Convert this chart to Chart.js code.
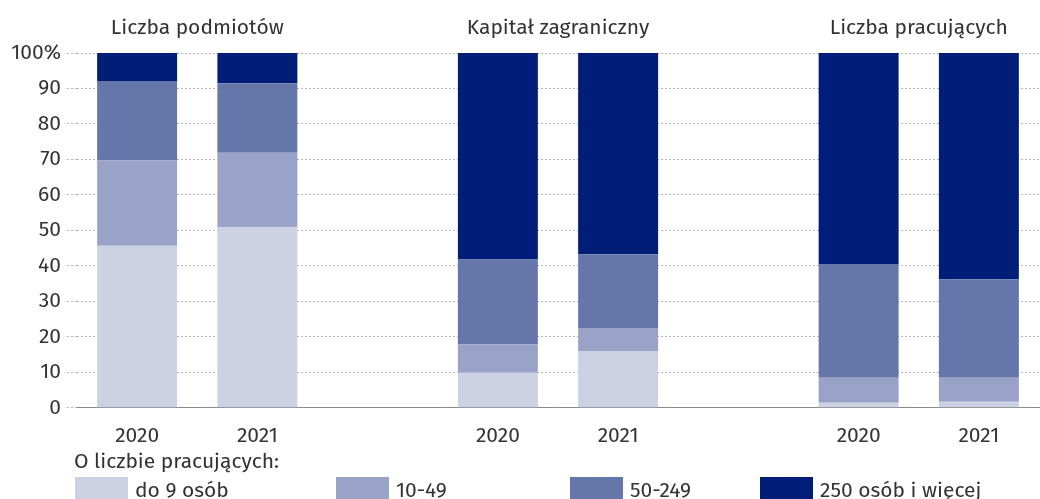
<!DOCTYPE html>
<html>
<head>
<meta charset="utf-8">
<script src="https://cdn.jsdelivr.net/npm/chart.js@4"></script>
<style>
  html, body { margin: 0; padding: 0; background: #fff; }
  #wrap { width: 1040px; height: 499px; position: relative; }
</style>
</head>
<body>
<div id="wrap"><canvas id="wykres"></canvas></div>
<script>
  // kategorie: dwa lata w trzech grupach, puste miejsca jako przerwy
  var lata = ['2020', '2021', '', '2020', '2021', '', '2020', '2021'];
  var grupy = ['Liczba podmiotów', 'Kapitał zagraniczny', 'Liczba pracujących'];
  var klasy = ['do 9 osób', '10-49', '50-249', '250 osób i więcej'];
  var kolory = ['#ccd1e4', '#99a3c8', '#6577aa', '#001d77'];

  var do9    = [45.7, 50.9, null, 9.9, 16.0, null, 1.4, 1.7];
  var od10   = [24.0, 21.0, null, 8.0, 6.5, null, 7.1, 6.8];
  var od50   = [22.4, 19.6, null, 23.9, 20.8, null, 32.0, 27.7];
  var od250  = [7.9, 8.5, null, 58.2, 56.7, null, 59.5, 63.8];

  var yTicks = [0, 10, 20, 30, 40, 50, 60, 70, 80, 90, 100];

  var czcionka = "'Fira Sans', 'Open Sans', sans-serif";
  var kolorTekstu = '#333333';
  var rozmiar = 21;

  // tytuły grup nad słupkami
  var tytulyGrup = {
    id: 'tytulyGrup',
    afterDraw: function(chart) {
      var ctx = chart.ctx;
      var x = chart.scales.x;
      ctx.save();
      ctx.font = rozmiar + 'px ' + czcionka;
      ctx.fillStyle = kolorTekstu;
      ctx.textAlign = 'center';
      ctx.textBaseline = 'middle';
      grupy.forEach(function(g, i) {
        var srodek = (x.getPixelForValue(i * 3) + x.getPixelForValue(i * 3 + 1)) / 2;
        ctx.fillText(g, srodek, 28);
      });
      ctx.restore();
    }
  };

  // legenda na dole
  var legendaDol = {
    id: 'legendaDol',
    afterDraw: function(chart) {
      var ctx = chart.ctx;
      var pozycje = [75, 336, 570, 760];
      ctx.save();
      ctx.font = rozmiar + 'px ' + czcionka;
      ctx.fillStyle = kolorTekstu;
      ctx.textAlign = 'left';
      ctx.textBaseline = 'middle';
      ctx.fillText('O liczbie pracujących:', 74, 462);
      chart.data.datasets.forEach(function(ds, i) {
        ctx.fillStyle = ds.backgroundColor;
        ctx.fillRect(pozycje[i], 477, 53, 26);
        ctx.fillStyle = kolorTekstu;
        ctx.fillText(ds.label, pozycje[i] + 60, 491);
      });
      ctx.restore();
    }
  };

  var serie = [do9, od10, od50, od250];
  var ctx = document.getElementById('wykres').getContext('2d');
  var wykres = new Chart(ctx, {
    type: 'bar',
    data: {
      labels: lata,
      datasets: serie.map(function(s, i) {
        return {
          label: klasy[i],
          data: s,
          backgroundColor: kolory[i],
          borderWidth: 0,
          barPercentage: 0.665,
          categoryPercentage: 1
        };
      })
    },
    options: {
      responsive: true,
      maintainAspectRatio: false,
      animation: false,
      layout: { padding: { top: 53, bottom: 34, right: 1, left: 0 } },
      plugins: {
        legend: { display: false },
        tooltip: { enabled: false }
      },
      scales: {
        x: {
          stacked: true,
          grid: { display: false, drawTicks: false },
          border: { display: true, color: '#8a8a8a', width: 1 },
          ticks: {
            padding: 16,
            color: kolorTekstu,
            font: { size: rozmiar, family: czcionka }
          }
        },
        y: {
          stacked: true,
          min: 0,
          max: 100,
          afterFit: function(scale) { scale.width = 77; },
          afterBuildTicks: function(scale) {
            scale.ticks = yTicks.map(function(v) { return { value: v }; });
          },
          grid: {
            color: '#b5b5b5',
            lineWidth: 1,
            drawTicks: true,
            tickLength: 10,
            tickColor: '#b5b5b5',
            tickBorderDash: [2, 2]
          },
          border: { display: false, dash: [2, 2] },
          ticks: {
            padding: 6,
            color: kolorTekstu,
            font: { size: rozmiar, family: czcionka },
            callback: function(v) { return v === 100 ? '100%' : v; }
          }
        }
      }
    },
    plugins: [tytulyGrup, legendaDol]
  });
</script>
</body>
</html>
